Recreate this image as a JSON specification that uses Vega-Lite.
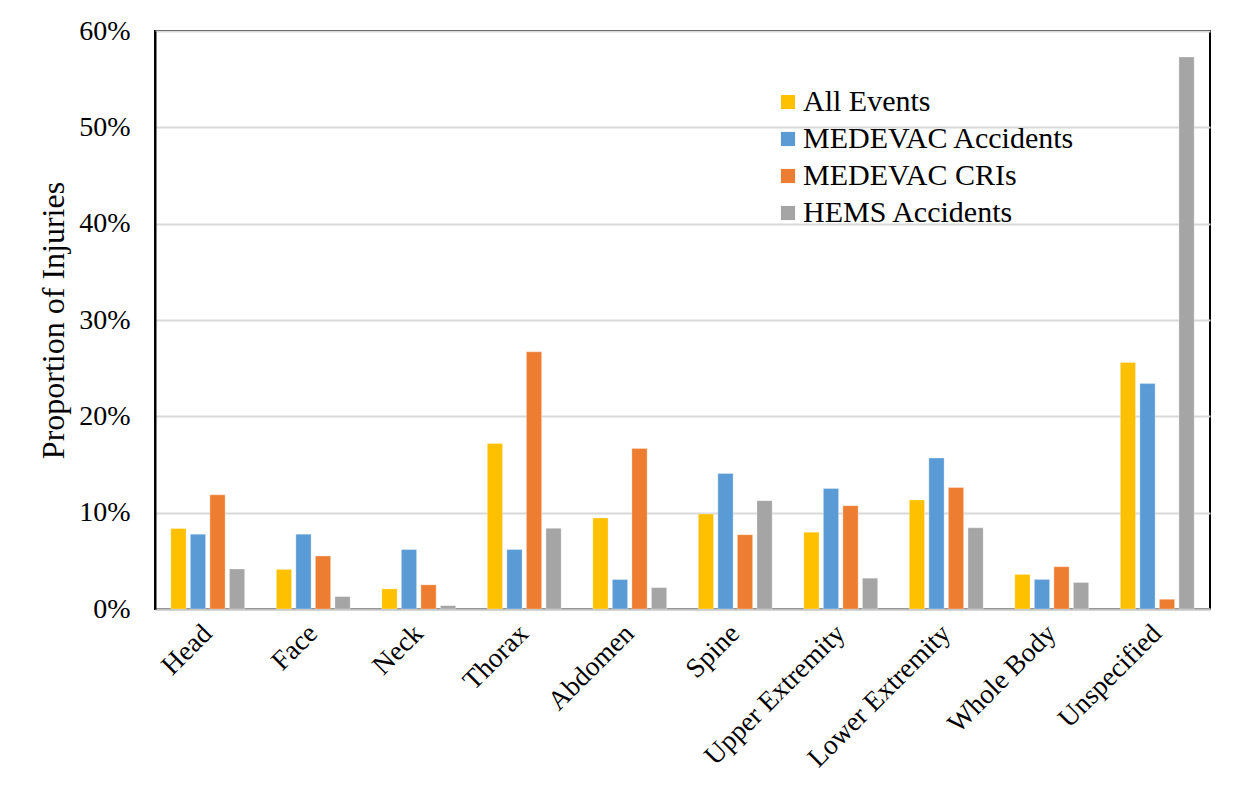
{
  "$schema": "https://vega.github.io/schema/vega-lite/v6.json",
  "autosize": {"type": "none"},
  "width": 1055,
  "height": 578,
  "padding": {"left": 155, "top": 31, "right": 28, "bottom": 182},
  "background": "white",
  "config": {
    "font": "Liberation Serif",
    "view": {"stroke": "black", "strokeWidth": 2}
  },
  "data": {
    "values": [
      {"region": "Head", "series": "All Events", "value": 0.0836},
      {"region": "Head", "series": "MEDEVAC Accidents", "value": 0.0777},
      {"region": "Head", "series": "MEDEVAC CRIs", "value": 0.1185},
      {"region": "Head", "series": "HEMS Accidents", "value": 0.0415},
      {"region": "Face", "series": "All Events", "value": 0.0411},
      {"region": "Face", "series": "MEDEVAC Accidents", "value": 0.0777},
      {"region": "Face", "series": "MEDEVAC CRIs", "value": 0.055},
      {"region": "Face", "series": "HEMS Accidents", "value": 0.0129},
      {"region": "Neck", "series": "All Events", "value": 0.0209},
      {"region": "Neck", "series": "MEDEVAC Accidents", "value": 0.0617},
      {"region": "Neck", "series": "MEDEVAC CRIs", "value": 0.0251},
      {"region": "Neck", "series": "HEMS Accidents", "value": 0.0035},
      {"region": "Thorax", "series": "All Events", "value": 0.1719},
      {"region": "Thorax", "series": "MEDEVAC Accidents", "value": 0.0618},
      {"region": "Thorax", "series": "MEDEVAC CRIs", "value": 0.267},
      {"region": "Thorax", "series": "HEMS Accidents", "value": 0.0837},
      {"region": "Abdomen", "series": "All Events", "value": 0.0944},
      {"region": "Abdomen", "series": "MEDEVAC Accidents", "value": 0.0306},
      {"region": "Abdomen", "series": "MEDEVAC CRIs", "value": 0.1667},
      {"region": "Abdomen", "series": "HEMS Accidents", "value": 0.0222},
      {"region": "Spine", "series": "All Events", "value": 0.0986},
      {"region": "Spine", "series": "MEDEVAC Accidents", "value": 0.1406},
      {"region": "Spine", "series": "MEDEVAC CRIs", "value": 0.0771},
      {"region": "Spine", "series": "HEMS Accidents", "value": 0.1125},
      {"region": "Upper Extremity", "series": "All Events", "value": 0.0798},
      {"region": "Upper Extremity", "series": "MEDEVAC Accidents", "value": 0.1251},
      {"region": "Upper Extremity", "series": "MEDEVAC CRIs", "value": 0.1073},
      {"region": "Upper Extremity", "series": "HEMS Accidents", "value": 0.032},
      {"region": "Lower Extremity", "series": "All Events", "value": 0.1132},
      {"region": "Lower Extremity", "series": "MEDEVAC Accidents", "value": 0.1568},
      {"region": "Lower Extremity", "series": "MEDEVAC CRIs", "value": 0.1261},
      {"region": "Lower Extremity", "series": "HEMS Accidents", "value": 0.0843},
      {"region": "Whole Body", "series": "All Events", "value": 0.0359},
      {"region": "Whole Body", "series": "MEDEVAC Accidents", "value": 0.0307},
      {"region": "Whole Body", "series": "MEDEVAC CRIs", "value": 0.0439},
      {"region": "Whole Body", "series": "HEMS Accidents", "value": 0.0275},
      {"region": "Unspecified", "series": "All Events", "value": 0.256},
      {"region": "Unspecified", "series": "MEDEVAC Accidents", "value": 0.234},
      {"region": "Unspecified", "series": "MEDEVAC CRIs", "value": 0.0101},
      {"region": "Unspecified", "series": "HEMS Accidents", "value": 0.573}
    ]
  },
  "mark": {"type": "bar", "stroke": "white", "strokeWidth": 0.5, "strokeOpacity": 0.6},
  "encoding": {
    "x": {
      "field": "region",
      "type": "nominal",
      "sort": null,
      "scale": {"paddingInner": 0.3, "paddingOuter": 0.15},
      "axis": {
        "title": null,
        "labelAngle": -45,
        "labelAlign": "right",
        "labelBaseline": "middle",
        "labelFontSize": 27.5,
        "labelColor": "black",
        "labelPadding": 20,
        "labelLimit": 400,
        "ticks": false,
        "domainColor": "#BFBFBF",
        "domainWidth": 2,
        "labelOverlap": false
      }
    },
    "xOffset": {
      "field": "series",
      "type": "nominal",
      "sort": ["All Events", "MEDEVAC Accidents", "MEDEVAC CRIs", "HEMS Accidents"],
      "scale": {"paddingInner": 0.22}
    },
    "y": {
      "field": "value",
      "type": "quantitative",
      "scale": {"domain": [0, 0.6], "nice": false},
      "axis": {
        "title": "Proportion of Injuries",
        "titleFontSize": 32,
        "titleFontWeight": "normal",
        "titleColor": "black",
        "titlePadding": 8,
        "format": ".0%",
        "values": [0, 0.1, 0.2, 0.3, 0.4, 0.5, 0.6],
        "labelFontSize": 28,
        "labelColor": "black",
        "labelPadding": 25,
        "ticks": false,
        "domainColor": "black",
        "domainWidth": 2,
        "gridColor": "#D9D9D9",
        "gridWidth": 2
      }
    },
    "color": {
      "field": "series",
      "type": "nominal",
      "sort": ["All Events", "MEDEVAC Accidents", "MEDEVAC CRIs", "HEMS Accidents"],
      "scale": {
        "domain": ["All Events", "MEDEVAC Accidents", "MEDEVAC CRIs", "HEMS Accidents"],
        "range": ["#FFC000", "#5B9BD5", "#ED7D31", "#A5A5A5"]
      },
      "legend": {
        "title": null,
        "orient": "none",
        "legendX": 618,
        "legendY": 56,
        "symbolType": "square",
        "symbolSize": 200,
        "symbolStrokeWidth": 0,
        "labelFontSize": 30,
        "labelColor": "black",
        "labelOffset": 0,
        "rowPadding": 7,
        "labelLimit": 400
      }
    }
  }
}
